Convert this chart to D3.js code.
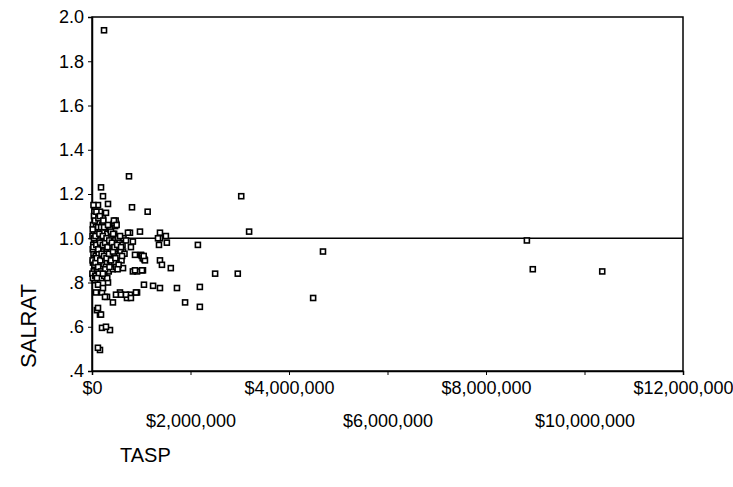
<!DOCTYPE html>
<html>
<head>
<meta charset="utf-8">
<script src="https://cdn.jsdelivr.net/npm/d3@7"></script>
<style>
  body { margin: 0; background: #fff; }
  svg text { font-family: "Liberation Sans", Arial, sans-serif; fill: #000; }
</style>
</head>
<body>
<svg class="chart"></svg>
<script>
// TASP in $ thousands, SALRAT ratio (paired by index)
var outTasp   = [244, 751, 812, 1130, 183, 223, 3030, 3190, 2150, 4690, 2500, 2960, 2190, 1890, 2190, 4490, 8830, 8950, 10360];
var outSalrat = [1.94, 1.28, 1.14, 1.12, 1.23, 1.19, 1.19, 1.03, 0.97, 0.94, 0.84, 0.84, 0.78, 0.71, 0.69, 0.73, 0.99, 0.86, 0.85];

var midTasp = [974, 1380, 1520, 771, 1380, 1360, 1380, 1420, 1600, 1035, 915, 830, 1055, 1240, 1380, 1725, 915, 771, 710, 568,
  425, 305, 203, 162, 100, 203, 365, 284, 162, 120, 1340, 1500, 730, 830, 790, 630, 995, 873, 1030, 1060,
  1010, 528, 630, 873, 1015, 61, 122, 223, 325, 81, 264, 487, 588, 690, 790, 893, 122, 183, 467, 440,
  490, 470, 122, 325, 162, 284, 122, 223, 30, 50, 40];
var midSalrat = [1.03, 1.025, 0.98, 1.025, 1.0, 0.97, 0.9, 0.88, 0.865, 0.855, 0.85, 0.85, 0.79, 0.785, 0.775, 0.775, 0.755, 0.745, 0.73, 0.755,
  0.71, 0.735, 0.755, 0.655, 0.675, 0.595, 0.585, 0.6, 0.495, 0.505, 1.0, 1.01, 1.025, 0.985, 0.96, 0.94, 0.925, 0.925, 0.91, 0.905,
  0.92, 0.895, 0.865, 0.855, 0.855, 0.81, 0.79, 0.775, 0.8, 0.755, 0.735, 0.745, 0.745, 0.745, 0.73, 0.755, 0.685, 0.655, 1.075, 1.065,
  1.065, 1.055, 1.15, 1.155, 1.12, 1.115, 1.09, 1.09, 1.15, 1.12, 1.1];

var coreTasp = [20, 35, 50, 25, 60, 30, 45, 20, 55, 35, 80, 95, 110, 85, 120, 100, 75, 115, 90, 105,
  140, 155, 170, 145, 180, 160, 135, 175, 150, 190, 210, 225, 240, 205, 250, 230, 215, 260, 235, 200,
  290, 310, 275, 320, 300, 285, 330, 305, 280, 340, 370, 390, 360, 400, 380, 410, 365, 395, 420,
  450, 470, 440, 480, 460, 500, 450, 490, 530, 560, 520, 580, 550, 600, 540, 640, 620, 660, 690,
  10, 15, 12, 8, 18, 65, 130, 190, 250, 310, 60, 130, 90, 160, 230,
  15, 40, 28, 48, 70, 88, 70, 98, 125, 128, 125, 150, 165, 168, 185, 195, 185, 220, 220, 245,
  245, 265, 270, 295, 295, 315, 325, 345, 350, 355, 385, 385, 405, 425, 430, 455, 475, 510, 520, 570,
  590, 610, 455, 480, 445, 500, 1045, 1075, 1050, 75, 140, 220, 100];
var coreSalrat = [1.06, 1.02, 0.99, 0.97, 0.95, 0.93, 0.91, 0.89, 0.87, 0.85, 1.05, 1.03, 1.0, 0.98, 0.96, 0.94, 0.92, 0.9, 0.88, 0.86,
  1.07, 1.04, 1.01, 0.99, 0.97, 0.95, 0.93, 0.91, 0.89, 0.87, 1.06, 1.03, 1.0, 0.98, 0.96, 0.94, 0.92, 0.9, 0.88, 0.86,
  1.05, 1.02, 0.99, 0.97, 0.95, 0.93, 0.91, 0.89, 0.87, 0.85, 1.04, 1.01, 0.98, 0.96, 0.94, 0.92, 0.9, 0.88, 0.86,
  1.02, 0.99, 0.97, 0.95, 0.93, 0.91, 0.89, 0.87, 1.0, 0.98, 0.96, 0.94, 0.92, 0.9, 0.88, 1.0, 0.97, 0.93, 0.99,
  1.01, 0.95, 0.9, 0.84, 0.82, 0.83, 0.83, 0.82, 0.83, 0.82, 1.08, 1.09, 1.12, 1.1, 1.08,
  1.04, 1.0, 0.96, 0.88, 1.01, 0.97, 0.89, 0.91, 1.05, 0.95, 0.87, 1.02, 0.98, 0.9, 1.05, 0.93, 0.85, 1.01, 0.97, 0.92,
  1.05, 0.98, 0.86, 1.0, 0.91, 0.96, 1.06, 0.93, 0.99, 0.87, 1.03, 0.9, 0.98, 0.94, 1.02, 0.96, 0.91, 0.97, 0.86, 1.01,
  0.96, 0.92, 1.07, 1.08, 1.08, 1.06, 0.91, 0.9, 0.92, 0.83, 0.84, 0.84, 0.82];

var xTicks = [0, 2000, 4000, 6000, 8000, 10000, 12000];
var yTicks = [0.4, 0.6, 0.8, 1.0, 1.2, 1.4, 1.6, 1.8, 2.0];
var refLine = 1.0;

var w = 733, h = 487,
    mLeft = 92, mRight = 683, mTop = 17, mBottom = 371;

var points = [];
[[outTasp, outSalrat], [midTasp, midSalrat], [coreTasp, coreSalrat]].forEach(function (s) {
  s[0].forEach(function (d, i) { points.push([d, s[1][i]]); });
});

var xScale = d3.scaleLinear().domain([0, 12000]).range([mLeft, mRight]);
var yScale = d3.scaleLinear().domain([0.4, 2.0]).range([mBottom, mTop]);

var chart = d3.select(".chart").attr("width", w).attr("height", h);

// frame
chart.append("rect")
    .attr("x", mLeft).attr("y", mTop)
    .attr("width", mRight - mLeft).attr("height", mBottom - mTop)
    .attr("fill", "none").attr("stroke", "#000").attr("stroke-width", 1.5);

// reference line at 1.0
chart.append("line")
    .attr("x1", mLeft).attr("x2", mRight)
    .attr("y1", yScale(refLine)).attr("y2", yScale(refLine))
    .attr("stroke", "#000").attr("stroke-width", 1.4);

// y axis
var yAxis = d3.axisLeft(yScale).tickValues(yTicks).tickSize(4).tickPadding(4)
    .tickFormat(function (d) { return d >= 1 ? d.toFixed(1) : d.toFixed(1).replace(/^0/, ""); });
var gy = chart.append("g").attr("transform", "translate(" + mLeft + ",0)").call(yAxis);
gy.select(".domain").attr("stroke-width", 1.5);
gy.selectAll("text").attr("font-size", 18).attr("font-family", "Liberation Sans, Arial, sans-serif");

// x axis, labels in two staggered rows
var xAxis = d3.axisBottom(xScale).tickValues(xTicks).tickSize(4).tickPadding(6)
    .tickFormat(function (d) { return d3.format("$,")(d * 1000); });
var gx = chart.append("g").attr("transform", "translate(0," + mBottom + ")").call(xAxis);
gx.select(".domain").attr("stroke-width", 1.5);
gx.selectAll("text")
    .attr("font-size", 18).attr("font-family", "Liberation Sans, Arial, sans-serif")
    .attr("dy", function (d, i) { return i % 2 ? "2.55em" : "0.71em"; });

// points
chart.append("g").selectAll("rect")
    .data(points)
    .enter().append("rect")
    .attr("x", function (d) { return xScale(d[0]) - 2.5; })
    .attr("y", function (d) { return yScale(d[1]) - 2.5; })
    .attr("width", 5).attr("height", 5)
    .attr("fill", "#fff").attr("stroke", "#000").attr("stroke-width", 1.6);

// axis titles
chart.append("text")
    .attr("transform", "translate(36,326) rotate(-90)")
    .attr("text-anchor", "middle")
    .attr("font-size", 22)
    .text("SALRAT");

chart.append("text")
    .attr("x", 120).attr("y", 462)
    .attr("font-size", 20)
    .text("TASP");
</script>
</body>
</html>
